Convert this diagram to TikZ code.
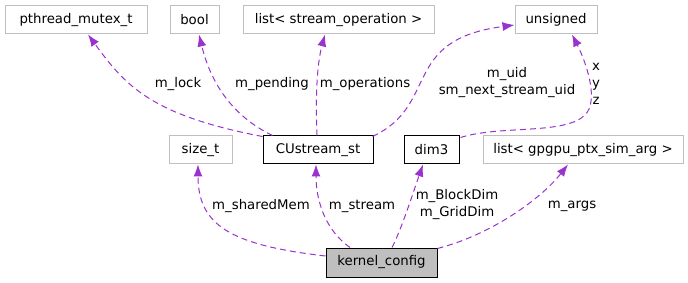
\documentclass[tikz,border=0pt]{standalone}
\usepackage{fontspec}
\setmainfont{DejaVu Sans}
\usetikzlibrary{arrows.meta}
\definecolor{edgepurple}{HTML}{9A32CD}
\definecolor{extgray}{HTML}{BFBFBF}
\begin{document}
\begin{tikzpicture}[x=1pt,y=-1pt,
  every node/.style={font=\fontsize{13.3}{17}\selectfont, inner sep=0pt},
  ext/.style={draw=extgray, line width=1pt, minimum height=28pt, fill=white},
  cls/.style={draw=black, line width=1pt, minimum height=28pt, fill=white},
  focus/.style={draw=black, line width=1pt, minimum height=29pt, fill=extgray},
  rel/.style={draw=edgepurple, line width=1pt, dash pattern=on 6pt off 4pt,
    -{Latex[length=12pt,width=9pt]}},
  lbl/.style={align=center}
]
\useasboundingbox (0,0) rectangle (688,283);

% type boxes
\node[ext, minimum width=142pt] (pm)   at (76,20)    {pthread\_mutex\_t};
\node[ext, minimum width=49pt]  (bool) at (194.5,20) {bool};
\node[ext, minimum width=191pt] (lso)  at (338.5,20) {list< stream\_operation >};
\node[ext, minimum width=82pt]  (uns)  at (556,20)   {unsigned};
\node[ext, minimum width=63pt]  (sz)   at (200.5,150) {size\_t};
\node[cls, minimum width=110pt] (cu)   at (318,150)  {CUstream\_st};
\node[cls, minimum width=55pt]  (dim)  at (431.5,150) {dim3};
\node[ext, minimum width=200pt] (lga)  at (583,150)  {list< gpgpu\_ptx\_sim\_arg >};
\node[focus, minimum width=111pt] (kc) at (381.5,262.5) {kernel\_config};

% members of kernel_config
\draw[rel] ([shift={(0,-6.5)}]kc.west) .. controls (230,245) and (198,225) .. ([shift={(-2.5,0)}]sz.south);
\draw[rel] ([shift={(-31.5,0)}]kc.north) .. controls (325,230) and (316,200) .. ([shift={(-2,0)}]cu.south);
\draw[rel] ([shift={(10.5,0)}]kc.north) .. controls (402,228) and (414,190) .. ([shift={(-8.5,0)}]dim.south);
\draw[rel] ([shift={(0,1)}]kc.north east) .. controls (490,235) and (540,200) .. ([shift={(-15,0)}]lga.south);

% members of CUstream_st
\draw[rel] ([shift={(0,1)}]cu.north west) .. controls (150,115) and (125,85) .. ([shift={(12,0)}]pm.south);
\draw[rel] ([shift={(10,0)}]cu.north west) .. controls (230,115) and (210,80) .. ([shift={(4.5,0)}]bool.south);
\draw[rel] ([shift={(-1,0)}]cu.north) .. controls (315,90) and (318,60) .. ([shift={(-13.5,0)}]lso.south);
\draw[rel] ([shift={(-1,1)}]cu.north east) .. controls (440,105) and (400,40) .. ([shift={(0,5)}]uns.west);

% members of dim3
\coordinate (bend) at (585,115);
\draw[rel] ([shift={(1,2)}]dim.north east) .. controls (500,125) and (565,135) .. (bend)
  .. controls (600,100) and (585,60) .. ([shift={(16,0)}]uns.south);

% edge labels
\node[lbl] (l1) at (261,206) {m\_sharedMem};
\node[lbl] (l2) at (362,206) {m\_stream};
\node[lbl] (l3) at (457,205) {m\_BlockDim\\m\_GridDim};
\node[lbl] (l4) at (572,206) {m\_args};
\node[lbl] (l5) at (178,84)  {m\_lock};
\node[lbl] (l6) at (272,84)  {m\_pending};
\node[lbl] (l7) at (365,84)  {m\_operations};
\node[lbl] (l8) at (507,83)  {m\_uid\\sm\_next\_stream\_uid};
\node[lbl] (l9) at (596,84)  {x\\y\\z};
\end{tikzpicture}
\end{document}
